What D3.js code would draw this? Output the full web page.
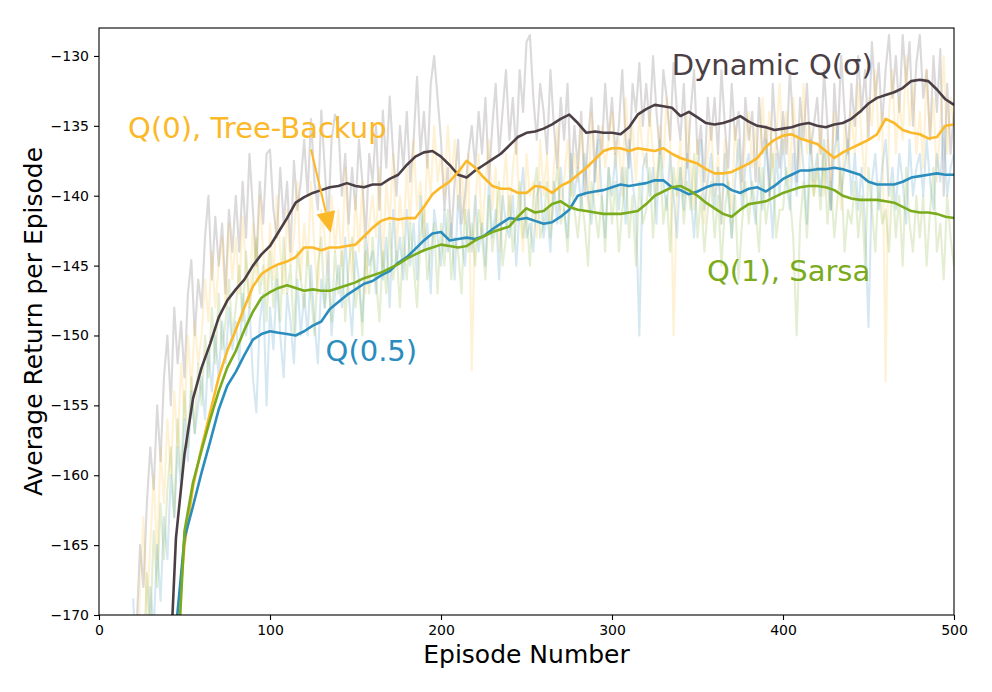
<!DOCTYPE html>
<html>
<head>
<meta charset="utf-8">
<script src="https://cdn.jsdelivr.net/npm/d3@7"></script>
<style>
  body { margin: 0; background: #fff; }
  svg { font-family: "DejaVu Sans", sans-serif; }
</style>
</head>
<body>
<svg id="graphe" width="992" height="692"></svg>
<script>
// DONNÉES
const ticksX = [0, 100, 200, 300, 400, 500]
const ticksY = [-130, -135, -140, -145, -150, -155, -160, -165, -170]

// Épisodes des courbes brutes (pas de 2) et des courbes lissées (pas de 5)
const episodesBruts = d3.range(20, 501, 2)
const episodesLisses = d3.range(40, 501, 5)

// Une ligne = 20 épisodes
const brutDynamique = [
  -176, -171, -165, -168, -162, -158, -161, -155, -159, -153,
  -150, -155, -148, -152, -149, -153, -147, -144.6, -150, -146,
  -148, -143, -140, -146, -141.5, -145, -142, -147, -141, -144,
  -140, -144, -139, -143, -137, -141, -145, -139, -142, -137,
  -136.7, -141, -143, -138, -142, -139, -144, -137.5, -141, -139,
  -136, -140, -134.5, -139, -141, -133.9, -138, -142, -136, -134.2,
  -135, -140, -137, -142, -138, -141, -136, -139, -143, -137,
  -139, -135, -141, -133.9, -138, -132.9, -137, -140, -135, -138,
  -134, -139, -136, -131.5, -137, -134, -138, -132, -130, -133,
  -136, -141, -138, -143, -139, -136, -142, -140, -137, -135,
  -138, -134, -137, -133, -139, -135, -132, -137, -134, -131,
  -136, -133, -137, -131, -134, -129, -128.5, -133, -136, -132,
  -134, -137, -131, -135, -138, -133, -136, -132, -139, -135,
  -138, -134, -140, -136, -133, -139, -135, -137, -132, -136,
  -133, -137, -135, -131, -136, -138, -132, -134, -130.5, -135,
  -132, -135, -130, -134, -137, -131, -133, -136, -130.5, -134,
  -136, -132, -138, -134, -131, -137, -135, -139, -133, -136,
  -133, -137, -131, -135, -138, -132, -136, -134, -139, -133,
  -136, -134, -139, -133, -137, -135, -140, -132, -136, -138,
  -134, -137, -131, -135, -139, -133, -136, -132, -137, -135,
  -133, -137, -131, -135, -141, -132, -136, -130, -134, -137,
  -132, -135, -130, -134, -131, -136, -129, -133, -130.5, -135,
  -131, -128.5, -133, -130, -134, -128.5, -132, -129, -135, -130.5,
  -128.5, -133, -131, -136, -130, -134, -129.5, -140, -132, -137,
  -134
]
const brutTreeBackup = [
  -182, -175, -168, -163, -170, -165, -160, -166, -158, -162,
  -156, -160, -154, -158, -152, -156, -150, -154, -149, -152,
  -150, -146, -149, -144, -148, -145, -143, -148, -142, -146,
  -143, -147, -141.5, -145, -148, -142, -146, -140, -144, -147,
  -142, -146, -140, -144, -147, -141, -145, -143, -139, -146,
  -142, -145, -139, -144, -147, -141, -143, -146, -140, -144,
  -141, -145, -138, -143, -146, -140, -144, -139, -147, -142,
  -140, -143, -138, -145, -139, -142, -137, -144, -140, -143,
  -138, -142, -136, -141, -139, -143, -137, -140, -135, -139,
  -137, -140, -135, -139, -136, -141, -138, -142, -137, -152.5,
  -141, -137, -143, -139, -136, -141, -138, -144, -140, -137,
  -142, -138, -136, -141, -144, -137, -140, -139, -143, -136,
  -140, -137, -142, -138, -135, -141, -139, -136, -140, -137,
  -139, -135, -138, -141, -134, -137, -140, -135, -138, -136,
  -134, -138, -136, -140, -133, -137, -135, -139, -134, -137,
  -138, -134, -137, -140, -135, -138, -133, -136, -150, -139,
  -136, -140, -134, -138, -141, -136, -139, -142, -137, -135,
  -140, -137, -142, -136, -139, -141, -135, -138, -140, -136,
  -134, -138, -135, -139, -133, -137, -134, -138, -136, -132,
  -137, -134, -139, -133, -136, -138, -132, -137, -135, -140,
  -138, -135, -140, -136, -139, -134, -137, -141, -135, -138,
  -134, -137, -132, -136, -139, -133, -135, -131, -136, -134,
  -153.3, -134, -131, -137, -133, -136, -130, -135, -132, -137,
  -134, -138, -131, -136, -133, -139, -135, -130, -137, -133,
  -135
]
const brutQ05 = [
  -168.8, -175, -180, -172, -176, -168, -171, -165, -169, -163,
  -166, -160, -163, -158, -161, -156, -159, -154, -157, -155,
  -153, -156, -151, -154, -150, -153, -149, -152, -148, -151,
  -149, -152, -147, -150, -148, -153, -155.5, -149, -147, -155,
  -148, -151, -146, -150, -153, -147, -149, -152, -146, -150,
  -147, -150, -145, -149, -152, -146, -148, -144, -150, -147,
  -145, -148, -143, -147, -150, -144, -146, -149, -143, -145,
  -144, -147, -142, -146, -143, -148, -141, -145, -143, -146,
  -141, -145, -142, -146, -140, -144, -142, -147, -141, -143,
  -145, -141, -144, -142, -146, -140, -143, -145, -141, -144,
  -140, -144, -142, -145, -139, -143, -141, -146, -140, -142,
  -143, -140, -145, -141, -138, -143, -142, -144, -140, -139,
  -143, -141, -144, -139, -142, -138, -141, -143, -137, -140,
  -138, -141, -137, -140, -142, -138, -136, -140, -143, -138,
  -140, -137, -141, -138, -142, -136, -139, -141, -150, -138,
  -137, -140, -138, -142, -136, -139, -141, -137, -140, -143,
  -138, -141, -137, -140, -143, -138, -136, -141, -139, -137,
  -141, -138, -142, -137, -140, -143, -139, -136, -141, -138,
  -137, -140, -142, -138, -141, -136, -139, -143, -137, -140,
  -136, -139, -141, -137, -140, -135, -138, -142, -136, -139,
  -137, -140, -136, -139, -141, -137, -135, -140, -138, -136,
  -140, -137, -141, -138, -142, -149.4, -139, -137, -141, -138,
  -136, -140, -138, -141, -137, -139, -142, -136, -140, -138,
  -137, -140, -136, -139, -141, -137, -139, -135, -140, -138,
  -137
]
const brutSarsa = [
  -183, -176, -170, -174, -167, -171, -164, -168, -162, -166,
  -161, -158, -163, -156, -160, -154, -158, -153, -157, -152,
  -155, -150, -153, -148, -152, -147, -151, -149, -146, -150,
  -148, -145, -149, -144, -148, -146, -143, -147, -145, -149,
  -144, -148, -145, -149, -143, -147, -145, -150, -144, -146,
  -148, -144, -147, -150, -145, -143, -148, -146, -149, -144,
  -147, -144, -149, -145, -143, -148, -146, -150, -144, -147,
  -143, -146, -149, -144, -147, -142, -146, -144, -148, -143,
  -146, -142, -145, -148, -143, -141, -146, -144, -142, -147,
  -142, -145, -141, -146, -143, -144, -147, -141, -144, -142,
  -145, -141, -143, -146, -140, -144, -142, -139, -145, -143,
  -140, -144, -142, -139, -143, -141, -145, -140, -138, -143,
  -142, -139, -143, -140, -138, -142, -141, -144, -139, -141,
  -143, -140, -142, -145, -139, -141, -143, -140, -144, -138,
  -142, -139, -144, -141, -138, -143, -140, -145, -139, -142,
  -141, -138, -143, -139, -137, -142, -140, -144, -138, -140,
  -138, -142, -139, -141, -137, -143, -140, -144, -141, -139,
  -143, -140, -145, -141, -139, -143, -140, -146, -142, -139,
  -142, -139, -141, -144, -138, -142, -140, -137, -143, -141,
  -141, -138, -140, -143, -150, -142, -139, -143, -138, -140,
  -138, -141, -137, -142, -139, -143, -140, -138, -144, -141,
  -142, -139, -143, -140, -145, -138, -141, -144, -139, -142,
  -141, -144, -139, -143, -140, -145, -138, -142, -144, -140,
  -143, -140, -145, -141, -138, -144, -142, -146, -140, -143,
  -145
]

const lisseDynamique = [
  -178, -164.5, -158.5, -154.5, -152.3, -150.6, -148.7, -147.5, -146.7, -146.0,
  -145.0, -144.2, -143.6, -142.6, -141.6, -140.5, -140.1, -139.8, -139.6, -139.4,
  -139.3, -139.1, -139.3, -139.4, -139.2, -139.2, -138.8, -138.5, -137.8, -137.2,
  -136.9, -136.8, -137.2, -137.8, -138.5, -138.7, -138.2, -137.8, -137.4, -137.0,
  -136.4, -135.8, -135.5, -135.4, -135.2, -134.9, -134.5, -134.2, -134.8, -135.5,
  -135.4, -135.5, -135.5, -135.6, -135.1, -134.2, -133.8, -133.5, -133.6, -133.7,
  -134.3, -134.0, -134.4, -134.8, -134.9, -134.8, -134.6, -134.3, -134.7, -135.0,
  -135.1, -135.3, -135.2, -135.1, -134.9, -134.8, -135.0, -135.1, -134.9, -134.8,
  -134.5, -134.0, -133.4, -133.0, -132.8, -132.6, -132.3, -131.8, -131.7, -131.8,
  -132.4, -133.1, -133.5
]
const lisseTreeBackup = [
  -185, -172, -165, -160.8, -158, -155.5, -153, -151.1, -149.6, -148,
  -146.5, -145.6, -145.2, -144.9, -144.7, -144.4, -143.7, -143.7, -143.9, -143.7,
  -143.7, -143.6, -143.5, -142.9, -142.3, -141.8, -141.6, -141.7, -141.6, -141.6,
  -140.8, -139.9, -139.4, -139.0, -138.3, -137.5, -138.0, -138.7, -139.3, -139.5,
  -139.5, -139.8, -139.8, -139.3, -139.4, -139.8, -139.3, -139.0, -138.5, -138.0,
  -137.4, -136.8, -136.6, -136.6, -136.8, -136.6, -136.7, -136.8, -136.6, -137.0,
  -137.3, -137.5, -137.7, -138.1, -138.4, -138.4, -138.3, -138.0, -137.7, -137.3,
  -136.5, -136.0, -135.7, -135.6, -135.9, -136.1, -136.3, -136.8, -137.3, -136.9,
  -136.6, -136.3, -136.0, -135.6, -134.5, -134.8, -135.3, -135.5, -135.6, -135.9,
  -135.8, -135.0, -134.9
]
const lisseQ05 = [
  -185, -171, -164.5, -162.2, -159.8, -157.6, -155.3, -153.6, -152.6, -151.4,
  -150.3, -149.9, -149.7, -149.8, -149.9, -150.0, -149.7, -149.3, -149.0, -148.1,
  -147.6, -147.1, -146.7, -146.3, -146.1, -145.7, -145.4, -144.8, -144.4, -143.8,
  -143.2, -142.7, -142.6, -143.2, -143.1, -143.0, -143.1, -142.9, -142.4, -142.0,
  -141.6, -141.7, -141.6, -141.8, -142.0, -141.9, -141.5, -141.0, -140.0, -139.8,
  -139.7, -139.6, -139.4, -139.2, -139.3, -139.2, -139.1, -138.9, -138.9, -139.4,
  -139.6, -139.9, -139.7, -139.4, -139.2, -139.2, -139.6, -139.8, -139.5, -139.4,
  -139.7, -139.3, -138.8, -138.5, -138.2, -138.2, -138.1, -138.1, -138.0, -138.1,
  -138.3, -138.5, -139.0, -139.2, -139.2, -139.2, -139.0, -138.7, -138.6, -138.5,
  -138.4, -138.5, -138.5
]
const lisseSarsa = [
  -188, -176, -164, -160.5, -158.2, -156.0, -154, -152.3, -151.1, -149.6,
  -148.3, -147.3, -146.9, -146.6, -146.4, -146.6, -146.8, -146.7, -146.8, -146.8,
  -146.6, -146.4, -146.2, -145.9, -145.7, -145.5, -145.2, -144.9, -144.5, -144.2,
  -143.9, -143.7, -143.5, -143.6, -143.7, -143.6, -143.2, -142.9, -142.6, -142.4,
  -142.2, -141.5, -140.9, -141.2, -141.1, -140.6, -140.4, -140.8, -141.0, -141.1,
  -141.2, -141.3, -141.3, -141.3, -141.2, -141.1, -140.6, -140.0, -139.7, -139.4,
  -139.3, -139.6, -140.0, -140.5, -140.9, -141.3, -141.5, -141.0, -140.6, -140.5,
  -140.4, -140.1, -139.8, -139.6, -139.4, -139.3, -139.3, -139.4, -139.6, -140.0,
  -140.2, -140.3, -140.3, -140.3, -140.4, -140.5, -140.8, -141.1, -141.2, -141.2,
  -141.3, -141.5, -141.6
]

const couleurs = {
  dynamique: '#4b3f45',
  treeBackup: '#fbb829',
  q05: '#2b8cbe',
  sarsa: '#7aab1d'
}

// DESSIN
const svg = d3.select('#graphe')
const marge = { gauche: 99, droite: 954, haut: 28, bas: 615 }

const x = d3.scaleLinear().domain([0, 500]).range([marge.gauche, marge.droite])
const y = d3.scaleLinear().domain([-170, -128]).range([marge.bas, marge.haut])

svg.append('clipPath').attr('id', 'zone')
  .append('rect')
  .attr('x', marge.gauche).attr('y', marge.haut)
  .attr('width', marge.droite - marge.gauche).attr('height', marge.bas - marge.haut)

const plot = svg.append('g').attr('clip-path', 'url(#zone)')

function tracer(episodes, valeurs, couleur, opacite, epaisseur) {
  const ligne = d3.line()
    .x((d, i) => x(episodes[i]))
    .y(d => y(d))
  plot.append('path')
    .datum(valeurs)
    .attr('d', ligne)
    .attr('fill', 'none')
    .attr('stroke', couleur)
    .attr('stroke-width', epaisseur)
    .attr('stroke-linejoin', 'round')
    .attr('opacity', opacite)
}

// Courbes brutes, pâles
tracer(episodesBruts, brutDynamique, couleurs.dynamique, 0.2, 2.1)
tracer(episodesBruts, brutTreeBackup, couleurs.treeBackup, 0.2, 2.1)
tracer(episodesBruts, brutQ05, couleurs.q05, 0.2, 2.1)
tracer(episodesBruts, brutSarsa, couleurs.sarsa, 0.2, 2.1)
// Courbes lissées
tracer(episodesLisses, lisseDynamique, couleurs.dynamique, 1, 2.6)
tracer(episodesLisses, lisseTreeBackup, couleurs.treeBackup, 1, 2.6)
tracer(episodesLisses, lisseQ05, couleurs.q05, 1, 2.6)
tracer(episodesLisses, lisseSarsa, couleurs.sarsa, 1, 2.6)

// Axes
const axeX = d3.axisBottom(x).tickValues(ticksX).tickSize(5).tickPadding(5)
const axeY = d3.axisLeft(y).tickValues(ticksY).tickSize(5).tickPadding(5)
  .tickFormat(d => String(d).replace('-', '\u2212'))

svg.append('g').attr('transform', `translate(0,${marge.bas})`).call(axeX)
svg.append('g').attr('transform', `translate(${marge.gauche},0)`).call(axeY)
svg.selectAll('.tick text').attr('font-size', 14).attr('font-family', '"DejaVu Sans", sans-serif').attr('fill', '#000')
svg.selectAll('.tick line').attr('stroke', '#000').attr('stroke-width', 1.1)
svg.selectAll('.domain').remove()

// Cadre
svg.append('rect')
  .attr('x', marge.gauche).attr('y', marge.haut)
  .attr('width', marge.droite - marge.gauche).attr('height', marge.bas - marge.haut)
  .attr('fill', 'none').attr('stroke', '#000').attr('stroke-width', 1.1)

// Titres des axes
svg.append('text')
  .attr('x', (marge.gauche + marge.droite) / 2).attr('y', 663)
  .attr('text-anchor', 'middle').attr('font-size', 25)
  .text('Episode Number')
svg.append('text')
  .attr('transform', `translate(42,${(marge.haut + marge.bas) / 2}) rotate(-90)`)
  .attr('text-anchor', 'middle').attr('font-size', 25)
  .text('Average Return per Episode')

// Étiquettes des courbes
const etiquettes = [
  { texte: 'Dynamic Q(σ)', ep: 335, val: -131.35, couleur: couleurs.dynamique },
  { texte: 'Q(0), Tree-Backup', ep: 17, val: -135.9, couleur: couleurs.treeBackup },
  { texte: 'Q(0.5)', ep: 132.5, val: -151.8, couleur: couleurs.q05 },
  { texte: 'Q(1), Sarsa', ep: 355.5, val: -146.1, couleur: couleurs.sarsa }
]
etiquettes.forEach(e => {
  svg.append('text')
    .attr('x', x(e.ep)).attr('y', y(e.val))
    .attr('font-size', 29).attr('fill', e.couleur)
    .text(e.texte)
})

// Flèche de l'annotation Tree-Backup
const depart = [x(124), y(-136.7)]
const pointe = [x(135.5), y(-142.65)]
const dx = pointe[0] - depart[0], dy = pointe[1] - depart[1]
const long = Math.hypot(dx, dy)
const ux = dx / long, uy = dy / long
const longTete = 21, largTete = 19
const base = [pointe[0] - ux * longTete, pointe[1] - uy * longTete]
svg.append('line')
  .attr('x1', depart[0]).attr('y1', depart[1])
  .attr('x2', base[0]).attr('y2', base[1])
  .attr('stroke', couleurs.treeBackup).attr('stroke-width', 2.1)
svg.append('polygon')
  .attr('points', [
    pointe,
    [base[0] - uy * largTete / 2, base[1] + ux * largTete / 2],
    [base[0] + uy * largTete / 2, base[1] - ux * largTete / 2]
  ].map(p => p.join(',')).join(' '))
  .attr('fill', couleurs.treeBackup)
</script>
</body>
</html>
